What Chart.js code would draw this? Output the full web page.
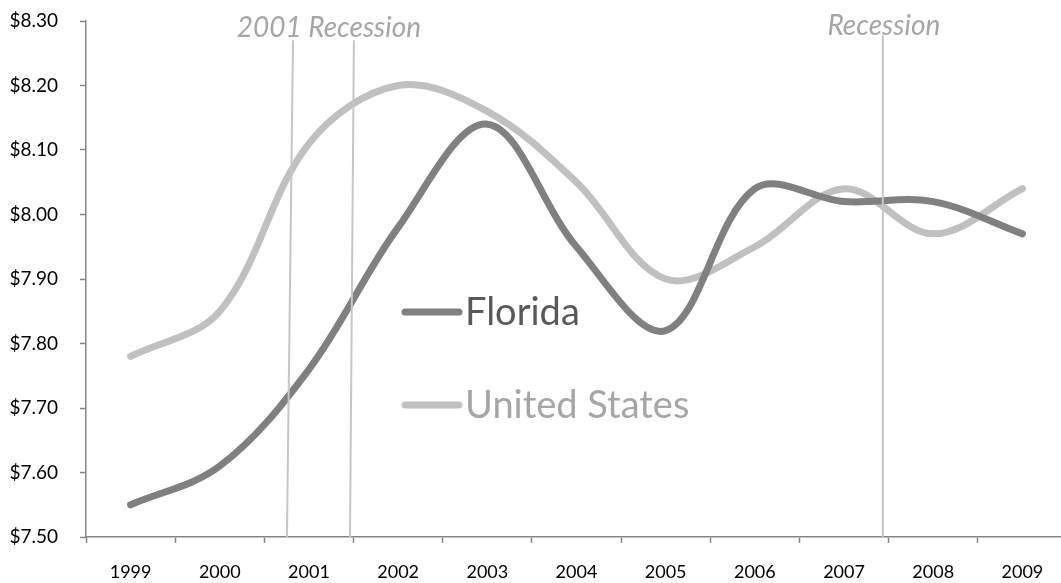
<!DOCTYPE html>
<html>
<head>
<meta charset="utf-8">
<script src="https://cdn.jsdelivr.net/npm/chart.js@4.4.1/dist/chart.umd.min.js"></script>
<style>
  html, body { margin: 0; padding: 0; background: #fff; overflow: hidden; }
  #wrap { width: 1061px; height: 583px; overflow: hidden; position: relative; }
  canvas { display: block; }
</style>
</head>
<body>
<div id="wrap"><canvas id="c" width="1070" height="583"></canvas></div>
<script>
// ---- Data ----
const years = ['1999','2000','2001','2002','2003','2004','2005','2006','2007','2008','2009'];
const florida = [7.55, 7.61, 7.76, 7.98, 8.14, 7.95, 7.82, 8.04, 8.02, 8.02, 7.97];
const unitedStates = [7.78, 7.85, 8.11, 8.20, 8.16, 8.05, 7.90, 7.95, 8.04, 7.97, 8.04];
const seriesNames = ['Florida', 'United States'];
const yMin = 7.50, yMax = 8.30, yStep = 0.10;

// Recession markers (positions in category-index units, values in $)
const recessionLineTopIndex    = [1.821, 2.504, 8.435];
const recessionLineBottomIndex = [1.753, 2.460, 8.435];
const recessionLineTopValue    = [8.270, 8.270, 8.278];
const recessionLabels      = ['2001 Recession', 'Recession'];
const recessionLabelIndex  = [2.224, 8.446];

const FONT = 'Lato, "Open Sans", sans-serif';

const annotationPlugin = {
  id: 'recessions',
  afterDatasetsDraw(chart) {
    const {ctx, scales: {x, y}, chartArea} = chart;
    ctx.save();
    ctx.strokeStyle = '#c6c6c6';
    ctx.lineWidth = 2;
    for (let i = 0; i < recessionLineTopIndex.length; i++) {
      ctx.beginPath();
      ctx.moveTo(x.getPixelForValue(recessionLineTopIndex[i]), y.getPixelForValue(recessionLineTopValue[i]));
      ctx.lineTo(x.getPixelForValue(recessionLineBottomIndex[i]), y.getPixelForValue(yMin));
      ctx.stroke();
    }
    ctx.fillStyle = '#a6a6a6';
    ctx.font = 'italic 28px ' + FONT;
    ctx.textAlign = 'center';
    ctx.textBaseline = 'alphabetic';
    const baselines = [chartArea.top + 16, chartArea.top + 14];
    recessionLabels.forEach((t, i) => {
      ctx.fillText(t, x.getPixelForValue(recessionLabelIndex[i]), baselines[i]);
    });
    ctx.restore();
  }
};

const legendPlugin = {
  id: 'midLegend',
  afterDraw(chart) {
    const {ctx} = chart;
    const items = [
      {lineY: 312, textY: 325, textColor: '#595959'},
      {lineY: 405, textY: 418, textColor: '#a6a6a6'}
    ];
    ctx.save();
    chart.data.datasets.forEach((ds, i) => {
      const it = items[i];
      ctx.strokeStyle = ds.borderColor;
      ctx.lineWidth = 7;
      ctx.lineCap = 'round';
      ctx.beginPath();
      ctx.moveTo(405, it.lineY);
      ctx.lineTo(459, it.lineY);
      ctx.stroke();
      ctx.fillStyle = it.textColor;
      ctx.font = '38px ' + FONT;
      ctx.textAlign = 'left';
      ctx.textBaseline = 'alphabetic';
      ctx.fillText(ds.label, 465, it.textY);
    });
    ctx.restore();
  }
};

new Chart(document.getElementById('c'), {
  type: 'line',
  data: {
    labels: years,
    datasets: [
      { label: seriesNames[0], data: florida, borderColor: '#808080', backgroundColor: '#808080' },
      { label: seriesNames[1], data: unitedStates, borderColor: '#c0c0c0', backgroundColor: '#c0c0c0' }
    ]
  },
  options: {
    responsive: false,
    animation: false,
    devicePixelRatio: 1,
    layout: { padding: { top: 21, right: 3, left: 0, bottom: 0 } },
    elements: {
      line: { borderWidth: 7, tension: 0.35, borderCapStyle: 'round', borderJoinStyle: 'round', fill: false },
      point: { radius: 0, hoverRadius: 0 }
    },
    plugins: { legend: { display: false }, tooltip: { enabled: false } },
    scales: {
      x: {
        type: 'category',
        offset: true,
        grid: { offset: true, drawOnChartArea: false, drawTicks: true, tickLength: 6, tickColor: '#868686', tickWidth: 1.5 },
        border: { color: '#868686', width: 1.5 },
        ticks: { color: '#000', font: { family: FONT, size: 18 }, padding: 18, maxRotation: 0, autoSkip: false },
        afterFit(scale) { scale.height = 46; scale.paddingLeft = 0; scale.paddingRight = 0; }
      },
      y: {
        min: yMin, max: yMax,
        grid: { drawOnChartArea: false, drawTicks: true, tickLength: 6, tickColor: '#868686', tickWidth: 1.5 },
        border: { color: '#868686', width: 1.5 },
        ticks: {
          stepSize: yStep,
          color: '#000',
          font: { family: FONT, size: 19 },
          padding: 22,
          callback: v => '$' + Number(v).toFixed(2)
        },
        afterFit(scale) { scale.width = 86; scale.paddingTop = 0; scale.paddingBottom = 0; }
      }
    }
  },
  plugins: [annotationPlugin, legendPlugin]
});
</script>
</body>
</html>
